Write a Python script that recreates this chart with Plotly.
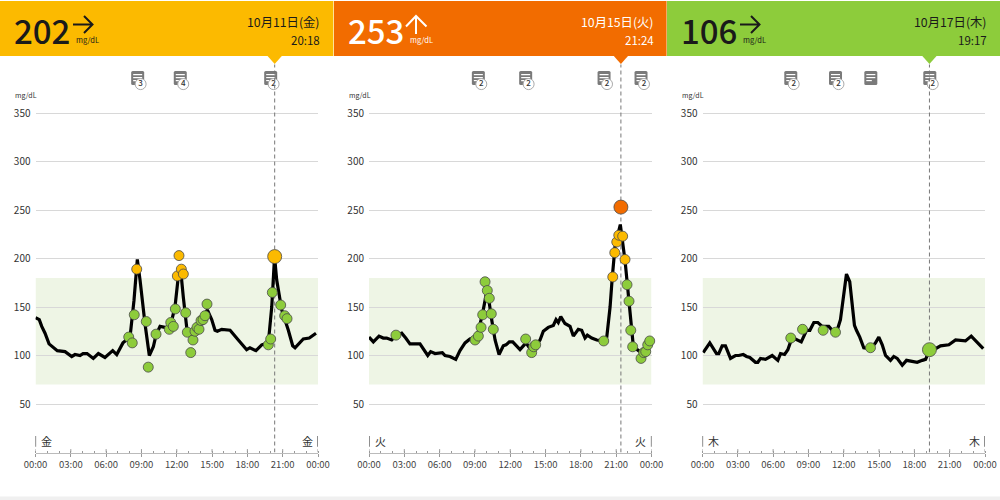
import plotly.graph_objects as go

FONT = "Noto Sans CJK JP"
GREEN, AMBER, ORANGE = "#8dcc3b", "#fcba00", "#f26c00"

# ---- day 1 ----
d1_t = [0,0.32,0.53,0.81,1.15,1.57,1.85,2.51,3.08,3.36,3.78,4.04,4.38,4.91,5.34,5.9,6.56,6.9,7.43,8.03,8.37,8.65,8.88,9.3,9.67,10.01,10.24,10.58,11.0,11.43,11.85,12.13,12.36,12.56,12.9,13.41,13.98,14.6,14.97,15.25,15.45,15.82,16.53,17.23,17.94,18.22,18.73,19.22,19.78,20.07,20.31,20.49,20.92,21.48,21.85,22.05,22.75,23.26,23.83]
d1_v = [139,137,130,123,112,108,105,104,99,101,100,102,102,97,102,98,105,101,113,119,157,199,178,133,100,109,121,130,129,129,150,181,185,160,123,119,136,147,137,126,125,127,126,116,106,108,105,111,113,150,202,178,147,126,110,108,117,118,123]
d1_pt = [7.92,8.22,8.39,9.41,9.58,10.24,11.37,11.49,11.71,11.88,12.76,12.9,13.19,13.38,13.55,13.72,13.89,14.06,14.23,14.4,14.57,19.78,19.98,20.12,20.83,21.17,21.37]
d1_pv = [119,113,142,135,88,122,127,134,130,148,144,124,103,116,125,129,127,136,137,141,153,111,117,165,152,141,138]
d1_at = [8.6,12.05,12.19,12.39,12.56]
d1_av = [189,182,203,189,184]
d1_cur_t, d1_cur_v = 20.32, 202

# ---- day 2 ----
d2_t = [0,0.37,0.85,1.21,1.5,1.93,2.35,2.78,3.12,3.48,4.33,4.99,5.24,5.61,6.23,6.46,6.88,7.37,7.73,8.16,8.58,9.01,9.29,9.66,9.94,10.22,10.42,10.71,11.05,11.41,11.64,11.92,12.21,12.83,13.34,13.74,14.1,14.53,14.81,15.23,15.66,15.89,16.08,16.29,16.65,17.08,17.36,17.78,18.07,18.35,18.55,18.92,19.35,19.91,20.2,20.48,20.67,20.9,21.13,21.35,21.52,21.75,21.95,22.12,22.32,22.46,23.02,23.17,23.45,23.73,23.96]
d2_v = [119,114,120,118,118,116,121,123,118,112,112,100,104,102,103,100,99,96,105,113,117,119,125,144,162,154,137,116,101,110,111,114,114,106,113,106,109,116,125,129,131,137,134,140,133,130,120,127,126,118,121,118,116,115,119,150,181,212,224,235,219,198,173,154,126,109,104,99,102,113,116]
d2_pt = [2.29,9.01,9.29,9.52,9.66,9.86,10.05,10.22,10.39,10.56,13.31,13.82,13.99,14.16,19.94,21.92,22.09,22.24,22.4,23.11,23.34,23.51,23.68,23.85]
d2_pv = [121,116,120,129,142,176,167,159,143,127,117,103,109,111,115,173,156,126,109,97,103,104,111,115]
d2_at = [20.71,20.88,21.05,21.22,21.55,21.75]
d2_av = [181,206,217,224,223,199]
d2_cur_t, d2_cur_v = 21.4, 253

# ---- day 3 ----
d3_t = [0.06,0.62,1.19,1.38,1.67,1.95,2.38,2.8,3.08,3.46,3.74,4.02,4.5,4.7,4.93,5.35,5.92,6.4,6.63,6.97,7.25,7.48,7.9,8.39,8.84,9.12,9.46,9.8,10.17,10.73,11.02,11.44,11.72,12.01,12.23,12.51,12.72,12.91,13.08,13.36,13.7,14.27,14.7,14.98,15.27,15.55,15.97,16.25,16.54,16.97,17.33,17.82,18.24,18.67,18.95,19.31,19.8,20.22,20.93,21.5,22.34,22.83,23.34,23.85]
d3_v = [103,113,102,102,110,110,97,100,100,101,99,98,93,93,97,96,100,95,102,101,106,114,117,114,126,126,134,134,130,130,126,126,137,167,184,176,154,131,126,119,108,107,113,119,111,100,95,99,97,90,95,94,93,95,96,106,107,110,111,116,115,120,113,107]
d3_pt = [7.5,8.5,10.25,11.3,14.27]
d3_pv = [118,127,126,124,108]
d3_at, d3_av = [], []
d3_cur_t, d3_cur_v = 19.28, 106

# ---- headers and notes ----
readings = ["202", "253", "106"]
dates = ["10月11日(金)", "10月15日(火)", "10月17日(木)"]
times = ["20:18", "21:24", "19:17"]
weekdays = ["金", "火", "木"]
note_times = [[8.68, 12.3, 19.98], [9.29, 13.31, 19.97, 23.11], [7.5, 11.3, 14.3, 19.31]]
note_counts = [["3", "4", "2"], ["2", "2", "2", "2"], ["2", "2", "", "2"]]
y_ticks = [50, 100, 150, 200, 250, 300, 350]
x_ticks = [0, 3, 6, 9, 12, 15, 18, 21, 24]
x_labels = ["00:00", "03:00", "06:00", "09:00", "12:00", "15:00", "18:00", "21:00", "00:00"]
target_low, target_high = 70, 180

days = [
    (d1_t, d1_v, d1_pt, d1_pv, d1_at, d1_av, d1_cur_t, d1_cur_v, AMBER),
    (d2_t, d2_v, d2_pt, d2_pv, d2_at, d2_av, d2_cur_t, d2_cur_v, ORANGE),
    (d3_t, d3_v, d3_pt, d3_pv, d3_at, d3_av, d3_cur_t, d3_cur_v, GREEN),
]
panel_l = [35.5, 369, 702.5]
panel_r = [318, 651.5, 985]
head_l = [0, 334, 667]
head_r = [333.4, 666.6, 1000]
text_dark = ["#1a1a1a", "#ffffff", "#1a1a1a"]
Y_TOP = 466.5
Y_NOTE = 386
Y_HEAD = 408.8

def px(x): return x / 1000
def py(y): return 1 - y / 500

fig = go.Figure()
shapes, annos = [], []

# footer
shapes.append(dict(type="rect", xref="paper", yref="paper", x0=0, x1=1, y0=py(500), y1=py(496.5),
                   fillcolor="#f0f0f0", line_width=0, layer="below"))

for i, (t, v, pt, pv, at, av, ct, cv, col) in enumerate(days):
    n = "" if i == 0 else str(i + 1)
    xa, ya = "x" + n, "y" + n
    # header band
    shapes.append(dict(type="rect", xref="paper", yref="paper", x0=px(head_l[i]), x1=px(head_r[i]),
                       y0=py(56), y1=py(1), fillcolor=col, line_width=0, layer="below"))
    shapes.append(dict(type="path", xref=xa, yref=ya, xsizemode="pixel", ysizemode="pixel",
                       xanchor=ct, yanchor=Y_HEAD, path="M -8 1 L 8 1 L 0 -8 Z",
                       fillcolor=col, line_width=0, layer="below"))
    # target band
    shapes.append(dict(type="rect", xref=xa, yref=ya, x0=0, x1=24, y0=target_low, y1=target_high,
                       fillcolor="#eef5e5", line_width=0, layer="below"))
    # day separators
    shapes.append(dict(type="line", xref=xa, yref=ya, x0=0, x1=0, y0=6, y1=17, line=dict(color="#444", width=1.2)))
    shapes.append(dict(type="line", xref=xa, yref=ya, x0=24, x1=24, y0=6, y1=17, line=dict(color="#444", width=1.2)))
    # upper half of the major ticks
    for tk in x_ticks:
        shapes.append(dict(type="line", xref=xa, yref=ya, x0=tk, x1=tk, y0=0, y1=3.5, line=dict(color="#999", width=1)))
    annos.append(dict(xref=xa, yref=ya, x=0, y=12, xshift=11, text=weekdays[i], showarrow=False,
                      font=dict(size=11, color="#333", family=FONT)))
    annos.append(dict(xref=xa, yref=ya, x=24, y=12, xshift=-11, text=weekdays[i], showarrow=False,
                      font=dict(size=11, color="#333", family=FONT)))
    # note icons
    for nt in note_times[i]:
        shapes.append(dict(type="path", xref=xa, yref=ya, xsizemode="pixel", ysizemode="pixel",
                           xanchor=nt, yanchor=Y_NOTE,
                           path="M -5 -7 Q -6.5 -7 -6.5 -5.5 L -6.5 5.5 Q -6.5 7 -5 7 L 5 7 Q 6.5 7 6.5 5.5 L 6.5 -5.5 Q 6.5 -7 5 -7 Z",
                           fillcolor="#7a7a7a", line_width=0, layer="below"))
        for off in (3.5, 0.5, -2.5):
            shapes.append(dict(type="rect", xref=xa, yref=ya, xsizemode="pixel", ysizemode="pixel",
                               xanchor=nt, yanchor=Y_NOTE, x0=-4.5, x1=(4.5 if off > -2 else 1),
                               y0=off - 0.6, y1=off + 0.6, fillcolor="#ffffff", line_width=0, layer="below"))
    bx = [nt + 0.25 for nt, c in zip(note_times[i], note_counts[i]) if c]
    bt = [c for c in note_counts[i] if c]
    fig.add_trace(go.Scatter(x=bx, y=[Y_NOTE - 6.2] * len(bx), mode="markers+text", text=bt,
                             textposition="middle center", textfont=dict(size=8, color="#333", family=FONT, weight=500),
                             marker=dict(size=11, color="#ffffff", line=dict(color="#aaa", width=1)),
                             cliponaxis=False, xaxis=xa, yaxis=ya, hoverinfo="skip", showlegend=False))
    # cursor
    fig.add_trace(go.Scatter(x=[ct, ct], y=[0, 400], mode="lines",
                             line=dict(color="#777", width=1, dash="4px,3px"),
                             xaxis=xa, yaxis=ya, hoverinfo="skip", showlegend=False))
    # glucose curve
    fig.add_trace(go.Scatter(x=t, y=v, mode="lines", line=dict(color="#000", width=3.2),
                             xaxis=xa, yaxis=ya, showlegend=False))
    # readings
    if pt:
        fig.add_trace(go.Scatter(x=pt, y=pv, mode="markers", cliponaxis=False,
                                 marker=dict(size=10, color=GREEN, line=dict(color="#4a4a4a", width=0.8)),
                                 xaxis=xa, yaxis=ya, showlegend=False))
    if at:
        fig.add_trace(go.Scatter(x=at, y=av, mode="markers", cliponaxis=False,
                                 marker=dict(size=10, color=AMBER, line=dict(color="#4a4a4a", width=0.8)),
                                 xaxis=xa, yaxis=ya, showlegend=False))
    fig.add_trace(go.Scatter(x=[ct], y=[cv], mode="markers", cliponaxis=False,
                             marker=dict(size=14, color=col, line=dict(color="#4a4a4a", width=0.8)),
                             xaxis=xa, yaxis=ya, showlegend=False))
    # axes
    fig.update_layout(**{
        "xaxis" + n: dict(domain=[px(panel_l[i]), px(panel_r[i])], range=[0, 24], anchor=ya,
                          tickvals=x_ticks, ticktext=x_labels, ticks="outside", ticklen=3, tickcolor="#999",
                          showgrid=False, zeroline=False, showline=True, linecolor="#bbb", linewidth=1,
                          tickfont=dict(size=9.5, color="#444", family=FONT),
                          minor=dict(ticks="inside", dtick=1, ticklen=2, tickcolor="#999", showgrid=False)),
        "yaxis" + n: dict(domain=[py(452.5), 1], range=[0, Y_TOP], anchor=xa,
                          tickvals=y_ticks, showgrid=True, gridcolor="#d8d8d8", gridwidth=1, zeroline=False,
                          showline=False, ticks="", ticklabelstandoff=4,
                          tickfont=dict(size=10, color="#333", family=FONT)),
    })
    # header texts
    hl = head_l[i]
    annos.append(dict(xref="paper", yref="paper", x=px(hl + 11.5), y=py(30), xanchor="left", yanchor="middle",
                      text=readings[i], showarrow=False,
                      font=dict(size=33, color=text_dark[i], family=FONT, weight=500)))
    annos.append(dict(xref="paper", yref="paper", x=px(hl + 74), y=py(39.5), xanchor="left", yanchor="middle",
                      text="mg/dL", showarrow=False, font=dict(size=7.5, color=text_dark[i], family=FONT)))
    annos.append(dict(xref="paper", yref="paper", x=px(hl + 322), y=py(22), xanchor="right", yanchor="middle",
                      text=dates[i], showarrow=False, font=dict(size=12.3, color=text_dark[i], family=FONT)))
    annos.append(dict(xref="paper", yref="paper", x=px(hl + 322), y=py(40.5), xanchor="right", yanchor="middle",
                      text=times[i], showarrow=False, font=dict(size=11.5, color=text_dark[i], family=FONT)))
    annos.append(dict(xref="paper", yref="paper", x=px(hl + 13), y=py(95), xanchor="left", yanchor="middle",
                      text="mg/dL", showarrow=False, font=dict(size=7, color="#333", family=FONT)))
    # trend arrow
    if i == 1:
        a = [(hl + 82, 34), (hl + 82, 16), (hl + 72, 26.5), (hl + 82, 16), (hl + 92.5, 26.5)]
    else:
        a = [(hl + 73, 24.5), (hl + 92.5, 24.5), (hl + 84, 16), (hl + 92.5, 24.5), (hl + 84, 33)]
    d = f"M {px(a[0][0])} {py(a[0][1])} L {px(a[1][0])} {py(a[1][1])} M {px(a[2][0])} {py(a[2][1])} L {px(a[3][0])} {py(a[3][1])} L {px(a[4][0])} {py(a[4][1])}"
    shapes.append(dict(type="path", xref="paper", yref="paper", path=d,
                       line=dict(color=text_dark[i], width=2)))

fig.update_layout(width=1000, height=500, autosize=False,
                  margin=dict(l=0, r=0, t=0, b=0, pad=0, autoexpand=False),
                  paper_bgcolor="#fff", plot_bgcolor="rgba(0,0,0,0)", showlegend=False,
                  font=dict(family=FONT), shapes=shapes, annotations=annos)
fig.write_html("out.html", post_script="document.body.style.margin='0';", config=dict(displayModeBar=False))
